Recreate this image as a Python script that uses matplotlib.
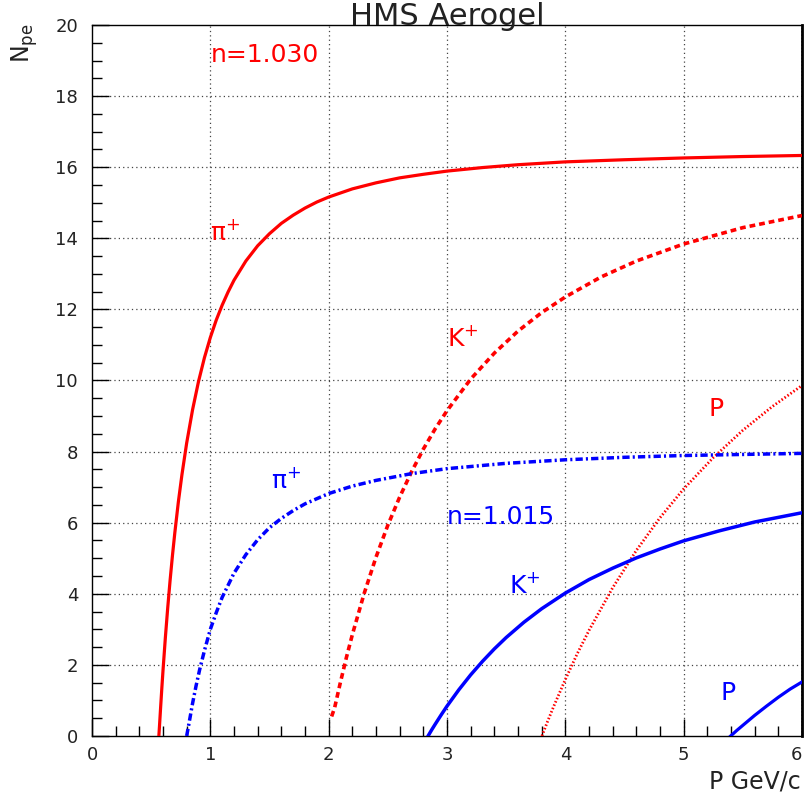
import matplotlib
matplotlib.use("Agg")
import matplotlib.pyplot as plt
from matplotlib.ticker import MultipleLocator

# n = 1.030 (red): pion, kaon, proton  (P in GeV/c, N_pe)
pi30_p = [0.565, 0.57, 0.58, 0.59, 0.60, 0.62, 0.64, 0.66, 0.68, 0.70, 0.73, 0.76,
          0.80, 0.85, 0.90, 0.95, 1.0, 1.05, 1.1, 1.15, 1.2, 1.3, 1.4, 1.5, 1.6,
          1.7, 1.8, 1.9, 2.0, 2.2, 2.4, 2.6, 2.8, 3.0, 3.3, 3.6, 4.0, 4.5, 5.0,
          5.5, 6.0]
pi30_n = [0.0, 0.26, 0.81, 1.34, 1.84, 2.77, 3.61, 4.38, 5.08, 5.72, 6.59, 7.35,
          8.24, 9.18, 9.97, 10.64, 11.21, 11.70, 12.12, 12.49, 12.82, 13.36, 13.79,
          14.13, 14.42, 14.65, 14.85, 15.02, 15.16, 15.39, 15.56, 15.70, 15.80,
          15.89, 15.99, 16.07, 16.15, 16.21, 16.26, 16.30, 16.33]
k30_p = [2.025, 2.05, 2.1, 2.15, 2.2, 2.3, 2.4, 2.5, 2.6, 2.7, 2.8, 2.9, 3.0, 3.2,
         3.4, 3.6, 3.8, 4.0, 4.3, 4.6, 5.0, 5.5, 6.0]
k30_n = [0.55, 0.79, 1.52, 2.21, 2.85, 4.01, 5.03, 5.93, 6.72, 7.43, 8.07, 8.64,
         9.15, 10.04, 10.77, 11.39, 11.91, 12.35, 12.91, 13.36, 13.84, 14.30, 14.64]
p30_p = [3.802, 3.85, 3.9, 4.0, 4.1, 4.2, 4.4, 4.6, 4.8, 5.0, 5.25, 5.5, 5.75, 6.0]
p30_n = [0.0, 0.41, 0.82, 1.59, 2.31, 2.97, 4.17, 5.22, 6.14, 6.95, 7.83, 8.60,
         9.27, 9.86]

# n = 1.015 (blue): pion, kaon, proton
pi15_p = [0.80, 0.82, 0.85, 0.88, 0.91, 0.95, 1.0, 1.05, 1.1, 1.2, 1.3, 1.4, 1.5,
          1.6, 1.7, 1.8, 2.0, 2.2, 2.4, 2.7, 3.0, 3.5, 4.0, 4.5, 5.0, 5.5, 6.0]
pi15_n = [0.0, 0.36, 0.92, 1.42, 1.87, 2.40, 3.0, 3.47, 3.9, 4.58, 5.1, 5.52, 5.86,
          6.12, 6.34, 6.53, 6.82, 7.03, 7.19, 7.38, 7.52, 7.67, 7.77, 7.84, 7.89,
          7.92, 7.95]
k15_p = [2.84, 2.87, 2.9, 2.95, 3.0, 3.1, 3.2, 3.3, 3.4, 3.5, 3.65, 3.8, 4.0, 4.2,
         4.4, 4.6, 4.8, 5.0, 5.3, 5.6, 6.0]
k15_n = [0.0, 0.17, 0.33, 0.59, 0.84, 1.30, 1.72, 2.10, 2.45, 2.77, 3.20, 3.58,
         4.02, 4.40, 4.72, 5.01, 5.26, 5.49, 5.77, 6.02, 6.28]
p15_p = [5.397, 5.45, 5.5, 5.6, 5.7, 5.8, 5.9, 6.0]
p15_n = [0.0, 0.16, 0.30, 0.58, 0.84, 1.09, 1.32, 1.52]

x_ticks = [0, 1, 2, 3, 4, 5, 6]
y_ticks = [0, 2, 4, 6, 8, 10, 12, 14, 16, 18, 20]

RED = "#ff0000"
BLUE = "#0000ff"

fig = plt.figure(figsize=(8.06, 8.0), dpi=100)
ax = fig.add_axes([92 / 806, 64 / 800, 710 / 806, 711 / 800])

# dotted grid at the major ticks
for xv in x_ticks[1:-1]:
    ax.axvline(xv, color="#444444", lw=0.9, linestyle=(0, (1, 2.5)), zorder=1)
for yv in y_ticks[1:-1]:
    ax.axhline(yv, color="#444444", lw=0.9, linestyle=(0, (1, 2.5)), zorder=1)
ax.axvline(6, color="#444444", lw=1.2, linestyle=(0, (1, 1)), zorder=1)

ax.plot(pi30_p, pi30_n, color=RED, lw=2.3, zorder=3)
ax.plot(k30_p, k30_n, color=RED, lw=2.6, dashes=(1.6, 1.1), dash_capstyle="butt", zorder=3)
ax.plot(p30_p, p30_n, color=RED, lw=2.0, dashes=(0.55, 0.75), dash_capstyle="butt", zorder=3)
ax.plot(pi15_p, pi15_n, color=BLUE, lw=2.5, dashes=(2.1, 0.9, 0.6, 0.9),
        dash_capstyle="butt", zorder=3)
ax.plot(k15_p, k15_n, color=BLUE, lw=2.5, zorder=3)
ax.plot(p15_p, p15_n, color=BLUE, lw=2.3, zorder=3)

ax.set_xlim(0, 6)
ax.set_ylim(0, 20)
ax.set_xticks(x_ticks)
ax.set_yticks(y_ticks)
ax.xaxis.set_minor_locator(MultipleLocator(0.2))
ax.yaxis.set_minor_locator(MultipleLocator(0.5))
ax.tick_params(which="both", direction="in", top=False, right=False, labelsize=13,
               width=1, labelcolor="#222222")
ax.tick_params(which="major", length=12)
ax.tick_params(which="minor", length=7)
ax.tick_params(axis="y", pad=10)
ax.tick_params(axis="x", pad=7)
ax.get_xticklabels()[-1].set_ha("right")
for s in ax.spines.values():
    s.set_linewidth(1.0)
ax.spines["right"].set_linewidth(2.0)

fs = 18
ax.text(1.0, 18.97, "n=1.030", color=RED, fontsize=fs, va="baseline")
ax.text(1.0, 13.95, r"π$^{+}$", color=RED, fontsize=fs, va="baseline")
ax.text(3.0, 10.97, r"K$^{+}$", color=RED, fontsize=fs, va="baseline")
ax.text(5.21, 9.0, "P", color=RED, fontsize=fs, va="baseline")
ax.text(1.51, 6.98, r"π$^{+}$", color=BLUE, fontsize=fs, va="baseline")
ax.text(3.0, 5.96, "n=1.015", color=BLUE, fontsize=fs, va="baseline")
ax.text(3.52, 4.03, r"K$^{+}$", color=BLUE, fontsize=fs, va="baseline")
ax.text(5.31, 1.01, "P", color=BLUE, fontsize=fs, va="baseline")

ax.text(0.5, 1.0, "HMS Aerogel", transform=ax.transAxes, ha="center", va="baseline",
        fontsize=22, color="#222222")
fig.text(0.993, 0.014, "P GeV/c", ha="right", va="baseline", fontsize=17, color="#222222")
fig.text(0.03, 0.946, r"N$_{\rm pe}$", rotation=90, ha="center", va="center",
         fontsize=17, color="#222222")

fig.savefig("out.png", dpi=100)
